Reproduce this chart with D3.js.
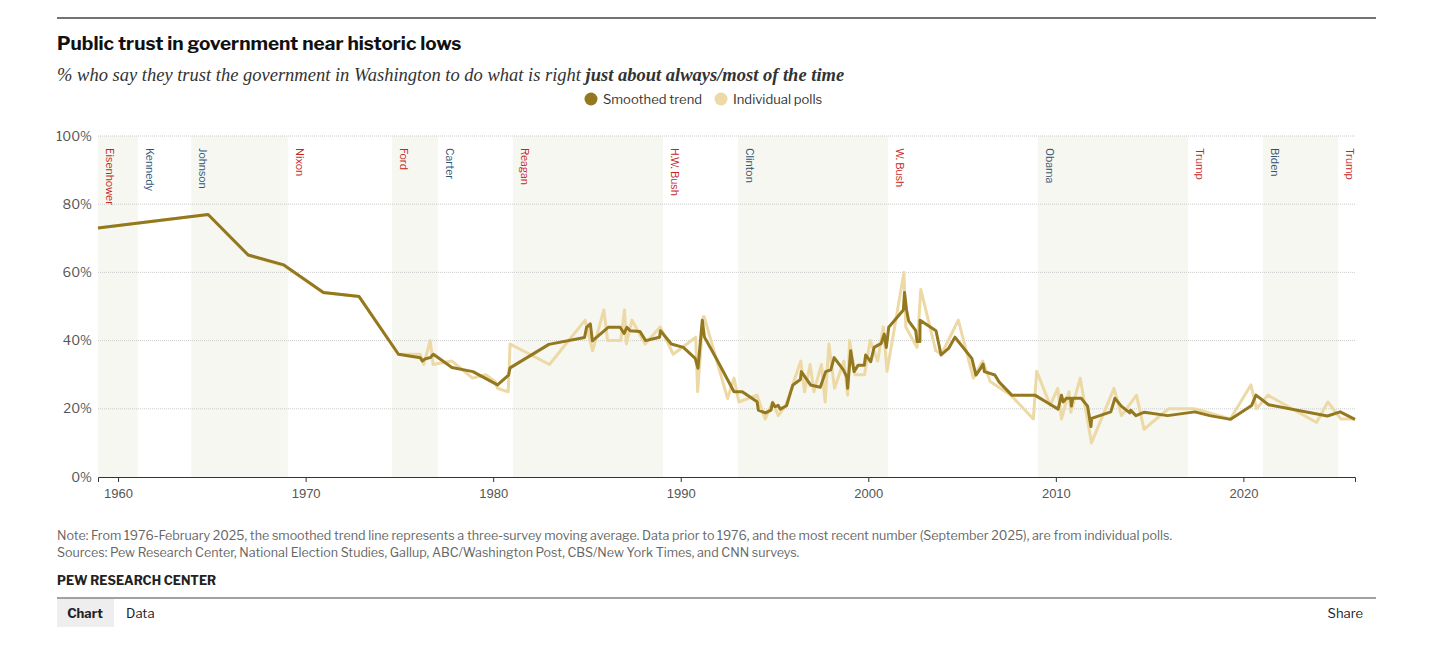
<!DOCTYPE html>
<html><head><meta charset="utf-8">
<script src="https://cdn.jsdelivr.net/npm/d3@7"></script>
<style>body{margin:0;background:#fff;font-family:"Franklin Gothic","Libre Franklin",Roboto,"Noto Sans",sans-serif}</style>
</head><body><svg id="c" width="1456" height="647"></svg>
<script>
const presidents=["Eisenhower","Kennedy","Johnson","Nixon","Ford","Carter","Reagan","H.W. Bush","Clinton","W. Bush","Obama","Trump","Biden","Trump"];
const termStarts=[1958.93,1961.05,1963.9,1969.05,1974.6,1977.05,1981.05,1989.05,1993.05,2001.05,2009.05,2017.05,2021.05,2025.05];
const parties=["R","D","D","R","R","D","R","R","D","R","D","R","D","R"];
const trendYears=[1958.93,1964.8,1966.94,1968.84,1970.95,1972.85,1974.95,1976.11,1976.22,1976.39,1976.64,1976.81,1977.8,1978.92,1980.23,1980.82,1980.9,1982.97,1984.87,1984.98,1985.18,1985.29,1986.13,1986.77,1986.98,1987.13,1987.3,1987.82,1988.13,1988.87,1988.92,1989.5,1990.14,1990.77,1990.92,1991.15,1991.26,1991.94,1992.84,1993.28,1994.07,1994.14,1994.52,1994.81,1994.9,1995.03,1995.19,1995.31,1995.64,1995.98,1996.38,1996.43,1996.92,1997.44,1997.73,1998.0,1998.18,1998.67,1998.85,1998.9,1999.06,1999.24,1999.46,1999.79,1999.86,2000.13,2000.31,2000.69,2000.85,2000.96,2001.09,2001.87,2001.93,2002.04,2002.15,2002.53,2002.6,2002.75,2002.76,2003.61,2003.88,2004.28,2004.62,2005.52,2005.74,2005.96,2006.12,2006.19,2006.75,2006.97,2007.65,2008.88,2009.67,2010.12,2010.3,2010.39,2010.56,2010.79,2010.83,2010.9,2011.35,2011.69,2011.87,2011.91,2012.93,2013.15,2013.49,2013.94,2013.98,2014.27,2014.72,2015.96,2017.41,2018.2,2019.32,2020.44,2020.67,2021.34,2024.48,2025.16,2025.95];
const trendValues=[73,77,65.1,62.2,54.1,52.9,36,35,34,34.7,35,36,32.1,30.9,27,29.9,32,38.9,40.9,43.9,44.9,39.9,43.9,43.9,42.1,43.9,42.9,42.7,40,41,42.9,39,38,34.8,31.9,46,41.1,34.3,25,25,22.1,19.6,18.8,19.6,21.8,20.6,21,19.9,20.9,27,28.6,30.9,27,26.3,30.9,31.4,35,31.4,29.4,26,37,30.9,32.8,32.8,35.8,33.8,38,39.2,41.9,38,43.9,49,54.1,49,45.8,42.9,39.7,39.7,46,42.9,35.8,37.7,41,34.8,29.9,31.6,33.1,30.9,29.9,27.9,24,24,21.4,19.9,24,22,23.1,23.1,20.8,23.1,23.1,20.8,14.8,17.2,19.1,23.1,20.8,18.8,19.6,18,19,18,19.1,18,16.9,21,24,21.2,17.9,19.1,16.9];
const pollYears=[1958.93,1964.8,1966.94,1968.84,1970.95,1972.85,1974.95,1976.1,1976.3,1976.64,1976.8,1977.8,1978.9,1979.6,1980.1,1980.23,1980.8,1980.9,1983,1984.9,1985.3,1985.9,1986.1,1986.8,1987,1987.1,1987.4,1988.1,1988.9,1989.6,1990.8,1990.9,1991.2,1991.25,1992.5,1992.84,1993.1,1994.07,1994.5,1994.9,1995.2,1995.6,1996.4,1996.6,1996.9,1997.1,1997.5,1997.7,1997.9,1998.2,1998.7,1998.9,1999.0,1999.3,1999.8,2000.1,2000.5,2000.8,2001.0,2001.9,2002.0,2002.6,2002.8,2003.6,2003.9,2004.8,2005.6,2006.1,2006.5,2007.6,2008.8,2008.98,2009.7,2010.1,2010.3,2010.7,2010.8,2011.3,2011.9,2013.1,2013.5,2014.3,2014.7,2016,2017.4,2019.3,2020.4,2020.7,2021.3,2023.9,2024.5,2025.2,2025.95];
const pollValues=[73,77,65,62,54,53,36,36,33,40,33,34,29,30,28,26,25,39,33,46,37,49,40,40,49,39,46,39,44,36,41,25,47,47,23,29,22,24,17,22,18,21,34,25,33,25,33,22,39,26,34,24,40,30,30,40,34,44,31,60,44,38,55,37,36,46,29,34,28,24,17,31,21,26,17,25,19,29,10,26,18,24,14,20,20,17,27,20,24,16,22,17,17];
const yTicks=[0,20,40,60,80,100];
const xTicks=[1960,1970,1980,1990,2000,2010,2020];

const svg=d3.select("#c");
const L=98,R=1355,T=136,B=477;
const x=d3.scaleLinear().domain([1958.93,2025.95]).range([L,R]);
const y=d3.scaleLinear().domain([0,100]).range([B,T]);

svg.append("line").attr("x1",57).attr("x2",1376).attr("y1",18).attr("y2",18).attr("stroke","#444").attr("stroke-width",1.5);
svg.append("text").attr("x",57).attr("y",50).attr("font-size",19).attr("font-weight",700).attr("fill","#111").text("Public trust in government near historic lows");
const sub=svg.append("text").attr("x",57).attr("y",81).attr("font-size",18.5).attr("font-style","italic").attr("font-family","'Liberation Serif','Times New Roman',serif").attr("fill","#333");
sub.append("tspan").text("% who say they trust the government in Washington to do what is right ");
sub.append("tspan").attr("font-weight",700).text("just about always/most of the time");
const lg=[["Smoothed trend","#94781f",585],["Individual polls","#ecd9a5",715]];
lg.forEach(d=>{svg.append("circle").attr("cx",d[2]+6).attr("cy",99).attr("r",6.5).attr("fill",d[1]);
svg.append("text").attr("x",d[2]+18).attr("y",104).attr("font-size",13).attr("fill","#333").text(d[0]);});

termStarts.forEach((s,i)=>{const e=i<termStarts.length-1?termStarts[i+1]:2025.95;
 if(i%2===0) svg.append("rect").attr("x",x(s)).attr("y",T).attr("width",x(e)-x(s)).attr("height",B-T).attr("fill",i===13?"#fbfbf8":"#f6f7f1");
 svg.append("text").attr("transform",`translate(${x(s)+8},148) rotate(90)`).attr("font-size",10.5).attr("fill",parties[i]==="R"?"#c8251c":"#315273").text(presidents[i]);
});
yTicks.forEach(t=>{ if(t>0) svg.append("line").attr("x1",L).attr("x2",R).attr("y1",y(t)).attr("y2",y(t)).attr("stroke","#ccc").attr("stroke-dasharray","1,1");
 svg.append("text").attr("x",92).attr("y",y(t)+4.5).attr("text-anchor","end").attr("font-size",13).attr("fill","#555").text(t+"%");});
const xa=svg.append("g").attr("transform",`translate(0,${B})`).call(d3.axisBottom(x).tickValues(xTicks).tickFormat(d3.format("d")).tickSize(5));
xa.select(".domain").attr("stroke","#333");
xa.selectAll("text").attr("font-size",13).attr("fill","#555").attr("font-family","inherit").attr("dy","1em");
xa.selectAll(".tick line").attr("stroke","#333");

const line=d3.line().x(d=>x(d[0])).y(d=>y(d[1]));
svg.append("path").attr("d",line(d3.zip(pollYears,pollValues))).attr("fill","none").attr("stroke","#ecd9a5").attr("stroke-width",3).attr("stroke-linejoin","round");
svg.append("path").attr("d",line(d3.zip(trendYears,trendValues))).attr("fill","none").attr("stroke","#94781f").attr("stroke-width",3).attr("stroke-linejoin","round");

svg.append("text").attr("x",57).attr("y",540).attr("font-size",12.5).attr("fill","#666").text("Note: From 1976-February 2025, the smoothed trend line represents a three-survey moving average. Data prior to 1976, and the most recent number (September 2025), are from individual polls.");
svg.append("text").attr("x",57).attr("y",557).attr("font-size",12.5).attr("fill","#666").text("Sources: Pew Research Center, National Election Studies, Gallup, ABC/Washington Post, CBS/New York Times, and CNN surveys.");
svg.append("text").attr("x",57).attr("y",585).attr("font-size",12.5).attr("font-weight",700).attr("fill","#222").text("PEW RESEARCH CENTER");
svg.append("line").attr("x1",57).attr("x2",1376).attr("y1",598).attr("y2",598).attr("stroke","#444").attr("stroke-width",1.2);
svg.append("rect").attr("x",57).attr("y",599).attr("width",57).attr("height",28).attr("fill","#eee");
svg.append("text").attr("x",85).attr("y",618).attr("text-anchor","middle").attr("font-size",13).attr("font-weight",700).attr("fill","#222").text("Chart");
svg.append("text").attr("x",126).attr("y",618).attr("font-size",13).attr("fill","#222").text("Data");
svg.append("text").attr("x",1363).attr("y",618).attr("text-anchor","end").attr("font-size",13).attr("fill","#222").text("Share");
</script></body></html>
